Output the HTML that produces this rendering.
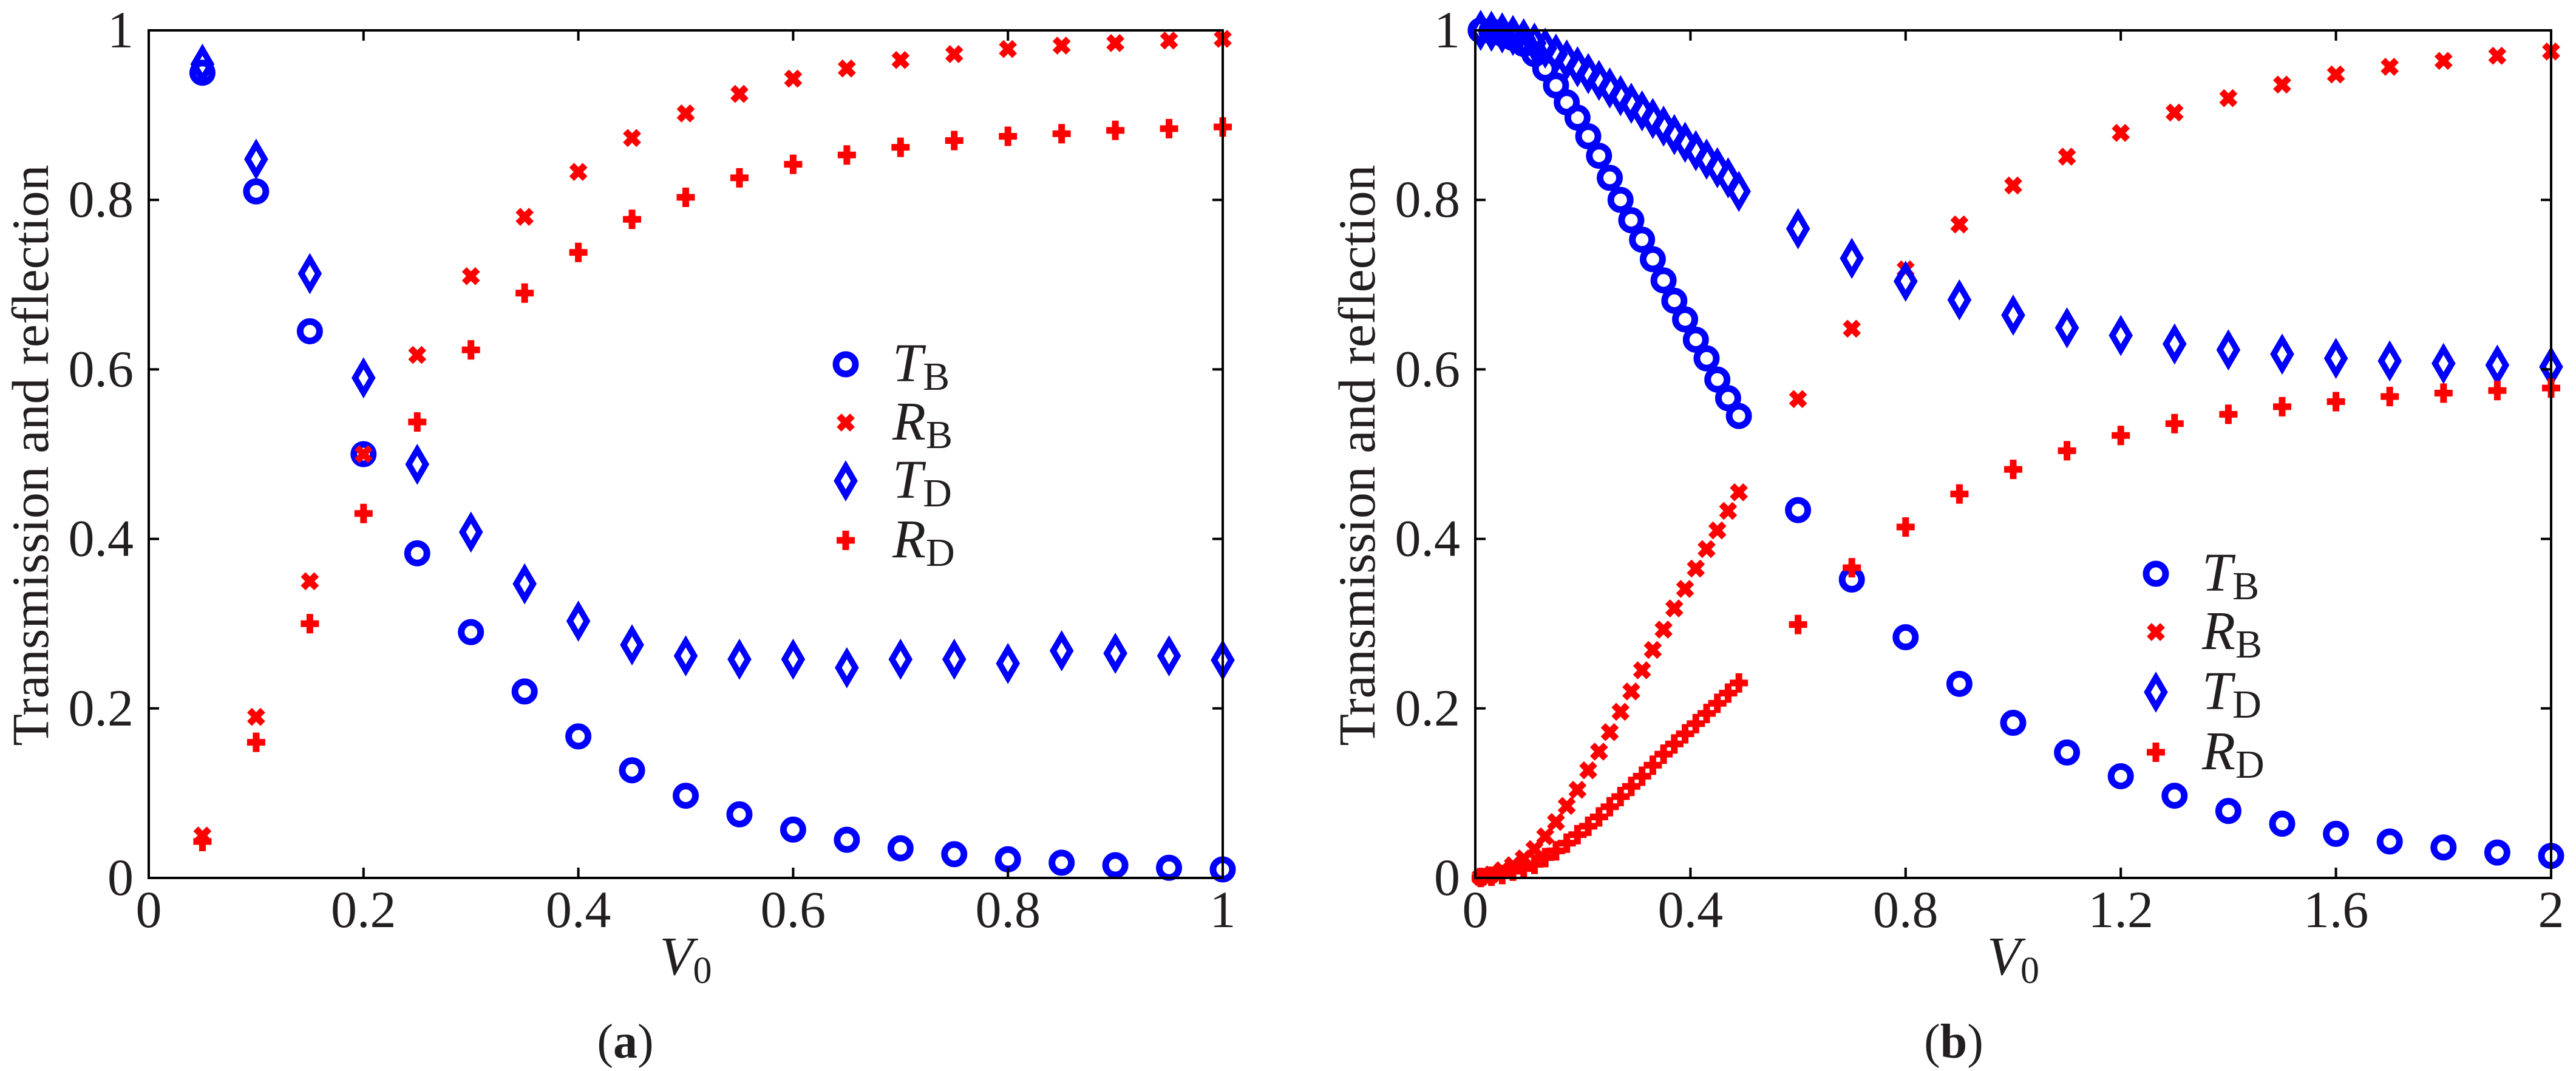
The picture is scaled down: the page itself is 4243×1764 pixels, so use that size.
<!DOCTYPE html>
<html><head><meta charset="utf-8"><style>
html,body{margin:0;padding:0;background:#fff;}
svg{display:block;}
svg text{font-family:"Liberation Serif","DejaVu Serif",serif;fill:#231f20;}
</style></head><body>
<svg id="fig" width="4243" height="1764" viewBox="0 0 4243 1764" xmlns="http://www.w3.org/2000/svg" font-family="Liberation Serif, DejaVu Serif, serif"></svg>
<script>
// ---- Panel (a) data ----
const aX = [0.05,0.1,0.15,0.2,0.25,0.3,0.35,0.4,0.45,0.5,0.55,0.6,0.65,0.7,0.75,0.8,0.85,0.9,0.95,1.0];
const aTB = [0.95,0.81,0.645,0.50,0.383,0.29,0.22,0.167,0.127,0.097,0.075,0.057,0.045,0.035,0.028,0.022,0.018,0.015,0.012,0.01];
const aRB = [0.05,0.19,0.35,0.50,0.617,0.71,0.78,0.833,0.873,0.902,0.925,0.943,0.955,0.965,0.972,0.978,0.982,0.985,0.988,0.99];
const aTD = [0.96,0.848,0.713,0.59,0.488,0.408,0.347,0.303,0.275,0.262,0.258,0.258,0.248,0.258,0.258,0.253,0.268,0.265,0.262,0.257];
const aRD = [0.043,0.16,0.30,0.43,0.538,0.623,0.69,0.738,0.777,0.803,0.826,0.842,0.853,0.862,0.87,0.875,0.878,0.882,0.884,0.886];
const aXTicks = ["0","0.2","0.4","0.6","0.8","1"];
const aXTickVals = [0,0.2,0.4,0.6,0.8,1];
// ---- Panel (b) data ----
const bX = [0.01,0.03,0.05,0.07,0.09,0.11,0.13,0.15,0.17,0.19,0.21,0.23,0.25,0.27,0.29,0.31,0.33,0.35,0.37,0.39,0.41,0.43,0.45,0.47,0.49,
            0.6,0.7,0.8,0.9,1.0,1.1,1.2,1.3,1.4,1.5,1.6,1.7,1.8,1.9,2.0];
const bTB = [1.0,0.999,0.996,0.991,0.984,0.972,0.955,0.935,0.915,0.897,0.875,0.852,0.826,0.8,0.776,0.753,0.73,0.705,0.681,0.659,0.635,0.613,0.588,0.566,0.545,
             0.434,0.352,0.284,0.229,0.183,0.148,0.12,0.097,0.079,0.064,0.052,0.043,0.036,0.03,0.026];
const bRB = [0.001,0.004,0.009,0.015,0.023,0.034,0.049,0.066,0.085,0.104,0.127,0.149,0.172,0.196,0.22,0.245,0.269,0.293,0.318,0.341,0.365,0.388,0.41,0.433,0.455,
             0.565,0.648,0.718,0.771,0.817,0.851,0.879,0.903,0.92,0.936,0.948,0.957,0.964,0.97,0.975];
const bTD = [1.0,0.999,0.997,0.994,0.99,0.985,0.979,0.972,0.965,0.957,0.949,0.941,0.932,0.923,0.914,0.905,0.896,0.887,0.877,0.868,0.858,0.848,0.838,0.826,0.81,
             0.766,0.731,0.704,0.682,0.664,0.649,0.64,0.63,0.623,0.618,0.613,0.61,0.607,0.605,0.603];
const bRD = [0.0005,0.002,0.004,0.008,0.011,0.016,0.024,0.032,0.041,0.051,0.061,0.072,0.084,0.096,0.108,0.12,0.133,0.146,0.158,0.17,0.182,0.194,0.206,0.218,0.23,
             0.299,0.366,0.414,0.453,0.482,0.504,0.522,0.536,0.547,0.556,0.562,0.568,0.572,0.575,0.578];
const bXTicks = ["0","0.4","0.8","1.2","1.6","2"];
const bXTickVals = [0,0.4,0.8,1.2,1.6,2];
const yTicks = ["0","0.2","0.4","0.6","0.8","1"];
const yTickVals = [0,0.2,0.4,0.6,0.8,1];

const NS = "http://www.w3.org/2000/svg";
const FONT = '"Liberation Serif", "DejaVu Serif", serif';
const svg = document.getElementById('fig');
function mk(tag, attrs, parent) {
  const e = document.createElementNS(NS, tag);
  for (const k in attrs) e.setAttribute(k, attrs[k]);
  if (tag === 'text') { e.setAttribute('font-family', FONT); e.style.fontFamily = FONT; e.setAttribute('fill', '#231f20'); }
  (parent || svg).appendChild(e);
  return e;
}
const BLUE = "#0000ff", RED = "#ff0000";

function marker(g, type, cx, cy) {
  let e;
  if (type === 'circle') {
    e = mk('circle', {cx: cx, cy: cy, r: 16, fill: 'none', stroke: BLUE, 'stroke-width': 11}, g);
  } else if (type === 'diamond') {
    e = mk('polygon', {points: `${cx},${cy-24} ${cx+14},${cy} ${cx},${cy+24} ${cx-14},${cy}`, fill: 'none', stroke: BLUE, 'stroke-width': 10, 'stroke-linejoin': 'miter'}, g);
  } else if (type === 'x') {
    e = mk('path', {d: `M${cx-11},${cy-11}L${cx+11},${cy+11}M${cx+11},${cy-11}L${cx-11},${cy+11}`, stroke: RED, 'stroke-width': 11, fill: 'none'}, g);
  } else {
    e = mk('path', {d: `M${cx-15},${cy}L${cx+15},${cy}M${cx},${cy-16}L${cx},${cy+16}`, stroke: RED, 'stroke-width': 11, fill: 'none'}, g);
  }
  return e;
}

function panel(opt) {
  const g = mk('g', {});
  
  
  const L = opt.L, R = opt.R, T = 50, B = 1446;
  const sx = v => L + (v - opt.xmin) / (opt.xmax - opt.xmin) * (R - L);
  const sy = v => B - v * (B - T);
  const series = [
    {name: 'series-tb', type: 'circle', vals: opt.TB},
    {name: 'series-rb', type: 'x', vals: opt.RB},
    {name: 'series-td', type: 'diamond', vals: opt.TD},
    {name: 'series-rd', type: 'plus', vals: opt.RD}
  ];
  series.forEach(s => {
    const sg = mk('g', {}, g);
    
    
    s.vals.forEach((v, i) => {
      const m = marker(sg, s.type, sx(opt.X[i]), sy(v));
      
      
    });
  });
  const fr = mk('rect', {x: L, y: T, width: R - L, height: B - T, fill: 'none', stroke: '#000', 'stroke-width': 4}, g);
  
  
  opt.xTickVals.forEach((v, i) => {
    const x = sx(v);
    mk('line', {x1: x, y1: B, x2: x, y2: B - 17, stroke: '#000', 'stroke-width': 4}, g);
    mk('line', {x1: x, y1: T, x2: x, y2: T + 17, stroke: '#000', 'stroke-width': 4}, g);
    const t = mk('text', {x: x, y: 1527, 'font-size': 86, 'text-anchor': 'middle'}, g);
    t.textContent = opt.xTicks[i];
    
    
  });
  yTickVals.forEach((v, i) => {
    const y = sy(v);
    mk('line', {x1: L, y1: y, x2: L + 17, y2: y, stroke: '#000', 'stroke-width': 4}, g);
    mk('line', {x1: R, y1: y, x2: R - 17, y2: y, stroke: '#000', 'stroke-width': 4}, g);
    const t = mk('text', {x: L - 25, y: y + 28, 'font-size': 86, 'text-anchor': 'end'}, g);
    t.textContent = yTicks[i];
    
    
  });
  const yt = mk('text', {x: 0, y: 0, 'font-size': 86, 'text-anchor': 'middle', transform: `translate(${L - 166},750) rotate(-90)`}, g);
  yt.textContent = 'Transmission and reflection';
  
  
  const xt = mk('text', {x: (L + R) / 2, y: 1605, 'font-size': 90, 'text-anchor': 'middle'}, g);
  xt.innerHTML = '<tspan font-style="italic">V</tspan><tspan font-size="62" dy="14">0</tspan>';
  
  
  const cp = mk('text', {x: opt.capX, y: 1742, 'font-size': 80, 'text-anchor': 'middle'}, g);
  cp.innerHTML = '(<tspan font-weight="bold">' + opt.cap + '</tspan>)';
  
  
  const lg = mk('g', {}, g);
  
  
  const labels = [['T','B'],['R','B'],['T','D'],['R','D']];
  series.forEach((s, i) => {
    const y = opt.legY[i];
    const eg = mk('g', {}, lg);
    
    
    marker(eg, s.type, opt.legMX, y);
    const t = mk('text', {x: opt.legTX, y: y + 28, 'font-size': 90}, eg);
    t.innerHTML = '<tspan font-style="italic">' + labels[i][0] + '</tspan><tspan font-size="66" dy="14">' + labels[i][1] + '</tspan>';
  });
}

panel({name: 'panel-a', L: 245, R: 2014, xmin: 0, xmax: 1, X: aX, TB: aTB, RB: aRB, TD: aTD, RD: aRD,
  xTicks: aXTicks, xTickVals: aXTickVals, cap: 'a', capX: 1030,
  legMX: 1393, legTX: 1470, legY: [600, 696, 792, 890]});
panel({name: 'panel-b', L: 2430, R: 4202, xmin: 0, xmax: 2, X: bX, TB: bTB, RB: bRB, TD: bTD, RD: bRD,
  xTicks: bXTicks, xTickVals: bXTickVals, cap: 'b', capX: 3218,
  legMX: 3551, legTX: 3627, legY: [945, 1041, 1140, 1239]});
</script>
</body></html>
